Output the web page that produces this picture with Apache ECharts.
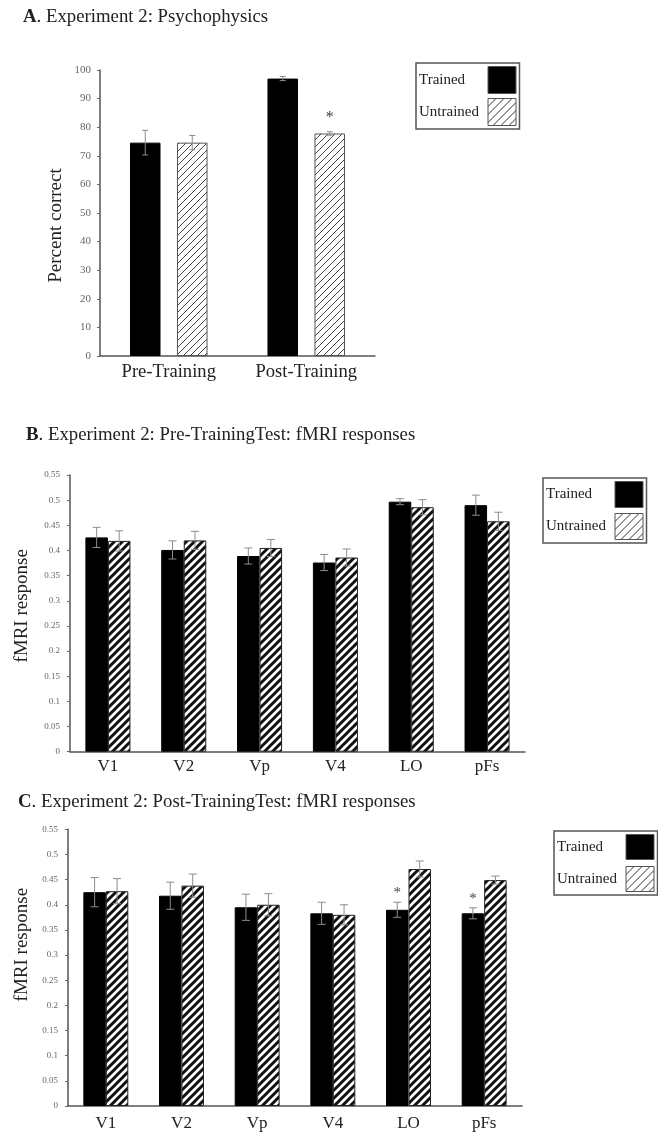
<!DOCTYPE html>
<html><head><meta charset="utf-8">
<script src="https://cdn.jsdelivr.net/npm/echarts@6/dist/echarts.min.js"></script>
<style>html,body{margin:0;padding:0;background:#fff}#c{width:658px;height:1136px}</style>
</head><body><div id="c"></div>
<script>
// ---------- DATA ----------
const categoriesA = ['Pre-Training', 'Post-Training'];
const trainedA = [74.6, 97.0];
const trainedErrA = [4.3, 0.7];
const untrainedA = [74.6, 77.8];
const untrainedErrA = [2.5, 0.6];
const sigTrainedA = [0, 0];
const sigUntrainedA = [0, 1];

const regions = ['V1', 'V2', 'Vp', 'V4', 'LO', 'pFs'];
const trainedB = [0.426, 0.401, 0.389, 0.376, 0.497, 0.490];
const trainedErrB = [0.020, 0.018, 0.016, 0.016, 0.006, 0.020];
const untrainedB = [0.419, 0.420, 0.405, 0.386, 0.486, 0.458];
const untrainedErrB = [0.020, 0.018, 0.017, 0.017, 0.015, 0.018];

const trainedC = [0.425, 0.418, 0.395, 0.383, 0.390, 0.383];
const trainedErrC = [0.029, 0.027, 0.026, 0.022, 0.015, 0.011];
const untrainedC = [0.427, 0.438, 0.400, 0.380, 0.471, 0.449];
const untrainedErrC = [0.025, 0.023, 0.022, 0.020, 0.016, 0.008];
const sigTrainedC = [0, 0, 0, 0, 1, 1];
const sigUntrainedC = [0, 0, 0, 0, 0, 0];

const yMinA = 0, yMaxA = 100, yStepA = 10;
const yMinF = 0, yMaxF = 0.55, yStepF = 0.05;

const seriesNames = ['Trained', 'Untrained'];
const titles = [
  ['A', '. Experiment 2: Psychophysics'],
  ['B', '. Experiment 2: Pre-TrainingTest: fMRI responses'],
  ['C', '. Experiment 2: Post-TrainingTest: fMRI responses']
];
const yNames = ['Percent correct', 'fMRI response', 'fMRI response'];

// ---------- STYLE ----------
const FF = '"Liberation Serif", "Times New Roman", "DejaVu Serif", serif';
function hatch(size, lw, color) {
  const c = document.createElement('canvas');
  c.width = c.height = size;
  const g = c.getContext('2d');
  g.fillStyle = '#fff'; g.fillRect(0, 0, size, size);
  g.strokeStyle = color; g.lineWidth = lw; g.beginPath();
  g.moveTo(0, size); g.lineTo(size, 0);
  g.moveTo(-size / 2, size / 2); g.lineTo(size / 2, -size / 2);
  g.moveTo(size / 2, size * 1.5); g.lineTo(size * 1.5, size / 2);
  g.stroke();
  return { image: c, repeat: 'repeat' };
}
const thinHatch = hatch(7, 1, '#444');
const legendHatch = hatch(8, 1, '#333');
const thickHatch = hatch(8, 3, '#111');

const grids = [
  { left: 100, top: 70, width: 275, height: 286 },
  { left: 70, top: 475, width: 455, height: 276.7 },
  { left: 68, top: 829.3, width: 454, height: 276.7 }
];
const layout = [
  { cg: 0.436, bg: 0.54, cap: 3, starGap: 14, starSize: 16 },
  { cg: 0.406, bg: 0, cap: 4, starGap: 9, starSize: 15 },
  { cg: 0.406, bg: 0, cap: 4, starGap: 9, starSize: 15 }
];

function errRender(k) {
  const L = layout[k];
  return function (params, api) {
    const j = api.value(0), v = api.value(1), e = api.value(2), side = api.value(3), sig = api.value(4);
    const band = api.size([1, 0])[0];
    const w = band * (1 - L.cg) / (2 + L.bg);
    const x = api.coord([j, v])[0] + side * w * (1 + L.bg) / 2;
    const yT = api.coord([j, v + e])[1], yB = api.coord([j, v - e])[1];
    const st = { stroke: '#8c8c8c', lineWidth: 1 };
    const ch = [
      { type: 'line', shape: { x1: x, y1: yT, x2: x, y2: yB }, style: st },
      { type: 'line', shape: { x1: x - L.cap, y1: yT, x2: x + L.cap, y2: yT }, style: st },
      { type: 'line', shape: { x1: x - L.cap, y1: yB, x2: x + L.cap, y2: yB }, style: st }
    ];
    if (sig) ch.push({ type: 'text', x: x, y: yT - L.starGap,
      style: { text: '*', fill: '#444', font: L.starSize + 'px ' + FF, align: 'center', verticalAlign: 'middle' } });
    return { type: 'group', children: ch };
  };
}

const sets = [
  { cats: categoriesA, t: trainedA, te: trainedErrA, u: untrainedA, ue: untrainedErrA, st: sigTrainedA, su: sigUntrainedA, hatchFill: thinHatch, hatchBorder: '#555' },
  { cats: regions, t: trainedB, te: trainedErrB, u: untrainedB, ue: untrainedErrB, st: [0,0,0,0,0,0], su: [0,0,0,0,0,0], hatchFill: thickHatch, hatchBorder: '#222' },
  { cats: regions, t: trainedC, te: trainedErrC, u: untrainedC, ue: untrainedErrC, st: sigTrainedC, su: sigUntrainedC, hatchFill: thickHatch, hatchBorder: '#222' }
];

const xAxis = [], yAxis = [], series = [], title = [], legend = [];
const nameCfg = [
  { gap: 34, pad: [0, 25, 0, 0] },
  { gap: 38, pad: [0, 0, 0, 15] },
  { gap: 36, pad: [0, 0, 0, 46] }
];
const labelCfg = [
  { catSize: 18.6, catMargin: 7, tickSize: 11, tickMargin: 9 },
  { catSize: 17, catMargin: 6, tickSize: 9, tickMargin: 10 },
  { catSize: 17, catMargin: 9, tickSize: 9, tickMargin: 10 }
];
const titleTops = [8, 426, 793];
const titleLefts = [23, 26, 18];
const legendPos = [
  { left: 416, top: 63, ih: 27, gap: 4 },
  { left: 543, top: 478, ih: 26, gap: 5 },
  { left: 554, top: 831, ih: 25, gap: 6 }
];

sets.forEach((s, k) => {
  const isA = k === 0;
  xAxis.push({
    type: 'category', gridIndex: k, data: s.cats,
    axisLine: { lineStyle: { color: '#555', width: 1.5 } },
    axisTick: { show: false },
    axisLabel: { color: '#222', fontFamily: FF, fontSize: labelCfg[k].catSize, margin: labelCfg[k].catMargin }
  });
  yAxis.push({
    type: 'value', gridIndex: k,
    min: isA ? yMinA : yMinF, max: isA ? yMaxA : yMaxF, interval: isA ? yStepA : yStepF,
    name: yNames[k], nameLocation: 'middle', nameGap: nameCfg[k].gap,
    nameTextStyle: { color: '#222', fontFamily: FF, fontSize: 19, padding: nameCfg[k].pad },
    axisLine: { show: true, lineStyle: { color: '#555', width: 1.5 } },
    axisTick: { show: true, inside: false, length: 3, lineStyle: { color: '#666' } },
    splitLine: { show: false },
    axisLabel: { color: '#666', fontFamily: FF, fontSize: labelCfg[k].tickSize, margin: labelCfg[k].tickMargin }
  });
  const L = layout[k];
  series.push({
    type: 'bar', name: seriesNames[0], xAxisIndex: k, yAxisIndex: k, data: s.t,
    barGap: (L.bg * 100) + '%', barCategoryGap: (L.cg * 100) + '%',
    itemStyle: { color: '#000', borderColor: '#000', borderWidth: 1 },
    emphasis: { disabled: true }, z: 2
  });
  series.push({
    type: 'bar', name: seriesNames[1], xAxisIndex: k, yAxisIndex: k, data: s.u,
    barGap: (L.bg * 100) + '%', barCategoryGap: (L.cg * 100) + '%',
    itemStyle: { color: s.hatchFill, borderColor: s.hatchBorder, borderWidth: 1 },
    emphasis: { disabled: true }, z: 2
  });
  const errData = [];
  s.t.forEach((v, j) => errData.push([j, v, s.te[j], -1, s.st[j]]));
  s.u.forEach((v, j) => errData.push([j, v, s.ue[j], 1, s.su[j]]));
  series.push({
    type: 'custom', name: 'err' + k, xAxisIndex: k, yAxisIndex: k,
    data: errData, encode: { x: 0, y: 1 }, renderItem: errRender(k), z: 5, silent: true
  });
  title.push({
    left: titleLefts[k], top: titleTops[k], padding: 0,
    text: '{b|' + titles[k][0] + '}' + titles[k][1],
    textStyle: {
      fontFamily: FF, fontSize: 18.8, fontWeight: 'normal', color: '#222',
      rich: { b: { fontFamily: FF, fontSize: 18.8, fontWeight: 'bold', color: '#222' } }
    }
  });
  const lp = legendPos[k];
  legend.push({
    left: lp.left, top: lp.top, orient: 'vertical', align: 'right',
    padding: [3, 3, 3, 3], itemGap: lp.gap, itemWidth: 28, itemHeight: lp.ih,
    borderColor: '#555', borderWidth: 1.5, selectedMode: false,
    formatter: '{a|{name}}',
    textStyle: { color: '#222', fontFamily: FF, fontSize: 15,
      rich: { a: { width: 64, align: 'left', fontFamily: FF, fontSize: 15, color: '#222' } } },
    data: [
      { name: 'Trained', icon: 'rect', itemStyle: { color: '#000', borderColor: '#555', borderWidth: 1 } },
      { name: 'Untrained', icon: 'rect', itemStyle: { color: legendHatch, borderColor: '#555', borderWidth: 1 } }
    ]
  });
});

const chart = echarts.init(document.getElementById('c'), null, { renderer: 'canvas' });
chart.setOption({
  backgroundColor: '#fff',
  animation: false,
  title, legend,
  grid: grids.map(g => Object.assign({ outerBoundsMode: 'none', containLabel: false }, g)),
  xAxis, yAxis, series
});
</script></body></html>
